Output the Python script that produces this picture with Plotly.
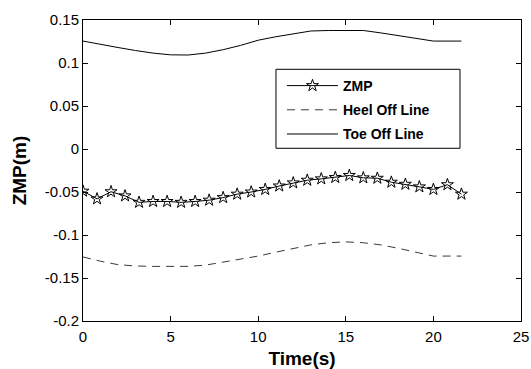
import plotly.graph_objects as go

# ZMP trajectory sampled every 0.8 s
zmp_t = [0.0, 0.8, 1.6, 2.4, 3.2, 4.0, 4.8, 5.6, 6.4, 7.2, 8.0, 8.8, 9.6, 10.4,
         11.2, 12.0, 12.8, 13.6, 14.4, 15.2, 16.0, 16.8, 17.6, 18.4, 19.2, 20.0,
         20.8, 21.6]
zmp = [-0.049, -0.058, -0.0497, -0.0545, -0.062, -0.061, -0.061, -0.062, -0.061,
       -0.0595, -0.0565, -0.0525, -0.050, -0.047, -0.043, -0.0394, -0.0363,
       -0.0347, -0.0331, -0.0308, -0.0335, -0.034, -0.0386, -0.041, -0.044,
       -0.047, -0.0415, -0.0525]

# Support-polygon boundaries
line_t = [0, 1, 2, 3, 4, 5, 6, 7, 8, 9, 10, 11, 12, 13, 14, 15, 16, 17, 18, 19,
          20, 21, 21.6]
toe_off = [0.1255, 0.1215, 0.118, 0.1145, 0.1115, 0.1095, 0.1093, 0.1115, 0.1155,
           0.1205, 0.1265, 0.1305, 0.134, 0.1372, 0.1378, 0.1378, 0.1378, 0.135,
           0.132, 0.1285, 0.1255, 0.1255, 0.1255]
heel_off = [-0.1255, -0.1305, -0.1345, -0.136, -0.1365, -0.1365, -0.1365, -0.135,
            -0.1315, -0.128, -0.1245, -0.12, -0.116, -0.1115, -0.109, -0.108,
            -0.109, -0.1115, -0.1155, -0.12, -0.1245, -0.1245, -0.1245]

x_ticks = [0, 5, 10, 15, 20, 25]
y_ticks = [-0.2, -0.15, -0.1, -0.05, 0, 0.05, 0.1, 0.15]
y_tick_text = ["-0.2", "-0.15", "-0.1", "-0.05", "0", "0.05", "0.1", "0.15"]

FONT = "Liberation Sans, Arial, sans-serif"

fig = go.Figure()
fig.add_trace(go.Scatter(
    x=zmp_t, y=zmp, name="ZMP", mode="lines+markers", legendgroup="a",
    line=dict(color="black", width=1),
    marker=dict(symbol="star-open", size=9, color="black", line=dict(width=1)),
))
fig.add_trace(go.Scatter(
    x=line_t, y=heel_off, name="Heel Off Line", mode="lines", legendgroup="b",
    line=dict(color="#3a3a3a", width=1, dash="8px,6px"),
))
fig.add_trace(go.Scatter(
    x=line_t, y=toe_off, name="Toe Off Line", mode="lines", legendgroup="c",
    line=dict(color="black", width=1),
))

axis_common = dict(
    showline=True, linecolor="black", linewidth=1, mirror="ticks",
    ticks="inside", ticklen=5, tickwidth=1, tickcolor="black",
    showgrid=False, zeroline=False,
    tickfont=dict(family=FONT, size=15, color="black"),
)

fig.update_xaxes(range=[0, 25], tickvals=x_ticks, ticklabelstandoff=2,
                 title=dict(text="<b>Time(s)</b>", standoff=13,
                            font=dict(family=FONT, size=19, color="black")),
                 automargin=False, **axis_common)
fig.update_yaxes(range=[-0.2, 0.15], tickvals=y_ticks, ticktext=y_tick_text,
                 title=dict(text="<b>ZMP(m)</b>", standoff=13,
                            font=dict(family=FONT, size=19, color="black")),
                 automargin=False, **axis_common)

# Legend frame (white box with black border)
fig.add_shape(type="rect", xref="paper", yref="paper",
              x0=0.4406, x1=0.8607, y0=0.5738, y1=0.8362,
              line=dict(color="black", width=1), fillcolor="white", layer="below")

fig.update_layout(
    width=531, height=369,
    margin=dict(l=83, r=10, t=20, b=48),
    paper_bgcolor="white", plot_bgcolor="white",
    showlegend=True,
    legend=dict(
        x=0.4543, y=0.8339, xanchor="left", yanchor="top",
        bgcolor="rgba(0,0,0,0)", borderwidth=0,
        font=dict(family=FONT, size=14, color="black", weight="bold"),
        itemwidth=51, tracegroupgap=3, traceorder="grouped",
    ),
)

fig.write_html("out.html")
